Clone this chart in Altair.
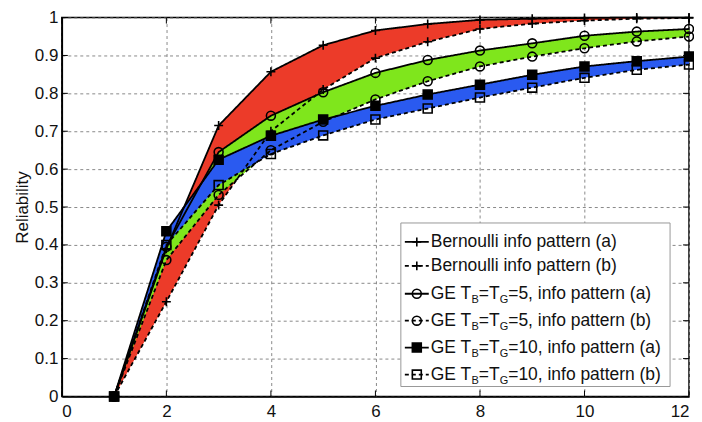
import altair as alt
import pandas as pd

# ---------------- data ----------------
steps = [1, 2, 3, 4, 5, 6, 7, 8, 9, 10, 11, 12]
bern_a = [0, 0.39, 0.715, 0.857, 0.927, 0.966, 0.983, 0.994, 0.997, 0.999, 1.0, 1.0]
bern_b = [0, 0.25, 0.505, 0.70, 0.81, 0.893, 0.936, 0.970, 0.984, 0.992, 0.997, 0.999]
ge5_a = [0, 0.395, 0.645, 0.741, 0.803, 0.854, 0.888, 0.913, 0.932, 0.952, 0.963, 0.970]
ge5_b = [0, 0.36, 0.532, 0.65, 0.725, 0.784, 0.832, 0.871, 0.897, 0.919, 0.937, 0.950]
ge10_a = [0, 0.436, 0.625, 0.688, 0.731, 0.767, 0.797, 0.823, 0.849, 0.871, 0.885, 0.897]
ge10_b = [0, 0.40, 0.558, 0.640, 0.689, 0.731, 0.760, 0.789, 0.815, 0.841, 0.862, 0.876]

series_keys = ["bern_a", "bern_b", "ge5_a", "ge5_b", "ge10_a", "ge10_b"]
series_labels = [
    "Bernoulli info pattern (a)",
    "Bernoulli info pattern (b)",
    "GE T_B=T_G=5, info pattern (a)",
    "GE T_B=T_G=5, info pattern (b)",
    "GE T_B=T_G=10, info pattern (a)",
    "GE T_B=T_G=10, info pattern (b)",
]
x_ticks = [0, 2, 4, 6, 8, 10, 12]
y_ticks = [0, 0.1, 0.2, 0.3, 0.4, 0.5, 0.6, 0.7, 0.8, 0.9, 1.0]

band_names = ["Bernoulli", "GE5", "GE10"]
band_colors = ["#ec3b29", "#7fe61c", "#2a5af0"]

# ---------------- styling ----------------
W, H = 629, 380
FONT = "Liberation Sans"
FS = 17
LFS = 17.5
SUB = 11
dash_solid = [1, 0]
dash_dash = [4, 3]
plus_path = "M-1,0L1,0M0,-1L0,1"
shapes = [plus_path, plus_path, "circle", "circle", "square", "square"]
dashes = [dash_solid, dash_dash, dash_solid, dash_dash, dash_solid, dash_dash]
fills = ["transparent", "transparent", "transparent", "transparent", "black", "transparent"]
sizes = [80, 80, 45, 30, 38, 26]

# ---------------- tables ----------------
values = dict(zip(series_keys, [bern_a, bern_b, ge5_a, ge5_b, ge10_a, ge10_b]))
long_rows = []
for k in series_keys:
    for s, v in zip(steps, values[k]):
        long_rows.append({"step": s, "key": k, "val": v})
long_df = pd.DataFrame(long_rows)

band_rows = []
for name, hi, lo in zip(band_names, [bern_a, ge5_a, ge10_a], [bern_b, ge5_b, ge10_b]):
    for s, h, l in zip(steps, hi, lo):
        band_rows.append({"step": s, "band": name, "hi": h, "lo": l})
band_df = pd.DataFrame(band_rows)

x_scale = alt.Scale(domain=[0, 12], nice=False, zero=False)
y_scale = alt.Scale(domain=[0, 1], nice=False)

x_axis = alt.Axis(values=x_ticks, format="d", title=None, grid=True,
                  ticks=False, labelPadding=7, labelOverlap=False)
y_axis = alt.Axis(values=y_ticks, format=".1~f", title="Reliability", grid=True,
                  ticks=False, labelPadding=4, titlePadding=3, labelOverlap=False,
                  tickCount=11)

areas = alt.Chart(band_df).mark_area(opacity=1, interpolate="linear").encode(
    x=alt.X("step:Q", scale=x_scale, axis=x_axis),
    y=alt.Y("hi:Q", scale=y_scale, axis=y_axis),
    y2="lo:Q",
    color=alt.Color("band:N", scale=alt.Scale(domain=band_names, range=band_colors), legend=None),
    order=alt.Order("band:N"),
)

lines = alt.Chart(long_df).mark_line(color="black", strokeWidth=1.8).encode(
    x=alt.X("step:Q", scale=x_scale, axis=x_axis),
    y=alt.Y("val:Q", scale=y_scale, axis=y_axis),
    detail="key:N",
    strokeDash=alt.StrokeDash("key:N", scale=alt.Scale(domain=series_keys, range=dashes), legend=None),
)

points = alt.Chart(long_df).mark_point(filled=False, color="black", strokeWidth=1.6, opacity=1).encode(
    x=alt.X("step:Q", scale=x_scale, axis=x_axis),
    y=alt.Y("val:Q", scale=y_scale, axis=y_axis),
    shape=alt.Shape("key:N", scale=alt.Scale(domain=series_keys, range=shapes), legend=None),
    fill=alt.Fill("key:N", scale=alt.Scale(domain=series_keys, range=fills), legend=None),
    size=alt.Size("key:N", scale=alt.Scale(domain=series_keys, range=sizes), legend=None),
)

# inward tick marks on all four sides
xt_df = pd.DataFrame({"step": x_ticks})
yt_df = pd.DataFrame({"val": y_ticks})
tick_bottom = alt.Chart(xt_df).mark_rule(color="black", strokeWidth=1).encode(
    x=alt.X("step:Q", scale=x_scale, axis=x_axis), y=alt.value(H), y2=alt.value(H - 6))
tick_top = alt.Chart(xt_df).mark_rule(color="black", strokeWidth=1).encode(
    x=alt.X("step:Q", scale=x_scale, axis=x_axis), y=alt.value(0), y2=alt.value(6))
tick_left = alt.Chart(yt_df).mark_rule(color="black", strokeWidth=1).encode(
    y=alt.Y("val:Q", scale=y_scale, axis=y_axis), x=alt.value(0), x2=alt.value(6))
tick_right = alt.Chart(yt_df).mark_rule(color="black", strokeWidth=1).encode(
    y=alt.Y("val:Q", scale=y_scale, axis=y_axis), x=alt.value(W), x2=alt.value(W - 6))

# ---------------- manual legend (to allow subscripts) ----------------
LX0, LX1, LY0, LY1 = 340, 610, 206, 370
row_y = [225, 249, 277, 304, 331, 358]
samp_x0, samp_x1, text_x = 344, 368, 370

widths = {" ": 278, "G": 778, "E": 667, "T": 611, "B": 667, "=": 584, ",": 278,
          "i": 222, "n": 556, "f": 278, "o": 556, "p": 556, "a": 556, "t": 278,
          "e": 556, "r": 333, "(": 333, ")": 333, "b": 556, "u": 556, "l": 222}


def text_w(s, size):
    return sum(widths.get(c, 556) for c in s) * size / 1000.0


text_rows = []
for label, yy in zip(series_labels, row_y):
    x = text_x
    buf = ""
    i = 0
    while i < len(label):
        c = label[i]
        if c == "_":
            if buf:
                text_rows.append({"t": buf, "px": x, "py": yy, "fs": LFS})
                x += text_w(buf, LFS)
                buf = ""
            sub = label[i + 1]
            text_rows.append({"t": sub, "px": x, "py": yy + 6, "fs": SUB})
            x += text_w(sub, SUB)
            i += 2
            continue
        buf += c
        i += 1
    if buf:
        text_rows.append({"t": buf, "px": x, "py": yy, "fs": LFS})
text_df = pd.DataFrame(text_rows)

leg_df = pd.DataFrame({"key": series_keys, "py": row_y,
                       "x0": [samp_x0] * 6, "x1": [samp_x1] * 6,
                       "xm": [(samp_x0 + samp_x1) / 2] * 6})

legend_box = alt.Chart(pd.DataFrame({"a": [0]})).mark_rect(
    fill="white", stroke="#999999", strokeWidth=1).encode(
    x=alt.value(LX0), x2=alt.value(LX1), y=alt.value(LY0), y2=alt.value(LY1))

legend_lines = alt.Chart(leg_df).mark_rule(color="black", strokeWidth=1.8).encode(
    x=alt.X("x0:Q", scale=None), x2="x1:Q", y=alt.Y("py:Q", scale=None),
    strokeDash=alt.StrokeDash("key:N", scale=alt.Scale(domain=series_keys, range=dashes), legend=None),
)
legend_pts = alt.Chart(leg_df).mark_point(filled=False, color="black", strokeWidth=1.6, opacity=1).encode(
    x=alt.X("xm:Q", scale=None), y=alt.Y("py:Q", scale=None),
    shape=alt.Shape("key:N", scale=alt.Scale(domain=series_keys, range=shapes), legend=None),
    fill=alt.Fill("key:N", scale=alt.Scale(domain=series_keys, range=fills), legend=None),
    size=alt.Size("key:N", scale=alt.Scale(domain=series_keys, range=sizes), legend=None),
)
legend_text = alt.Chart(text_df).mark_text(
    align="left", baseline="middle", font=FONT, color="#111111").encode(
    x=alt.X("px:Q", scale=None), y=alt.Y("py:Q", scale=None),
    text="t:N", size=alt.Size("fs:Q", scale=None, legend=None),
)

chart = alt.layer(
    areas, lines, points, tick_bottom, tick_top, tick_left, tick_right,
    legend_box, legend_lines, legend_pts, legend_text,
).resolve_scale(
    shape="independent", fill="independent", size="independent", strokeDash="independent",
).properties(
    width=W, height=H,
    autosize=alt.AutoSizeParams(type="none"),
    padding={"left": 54, "top": 9, "right": 5, "bottom": 26},
).configure_view(
    stroke="black", strokeWidth=1.5,
).configure_axis(
    labelFont=FONT, labelFontSize=FS, labelColor="#111111",
    titleFont=FONT, titleFontSize=FS, titleFontWeight="normal", titleColor="#111111",
    domainColor="black", domainWidth=1.5,
    gridColor="#8a8a8a", gridDash=[3, 3], gridWidth=1,
)

chart.save("out.html", embed_options={"renderer": "svg", "actions": False})
